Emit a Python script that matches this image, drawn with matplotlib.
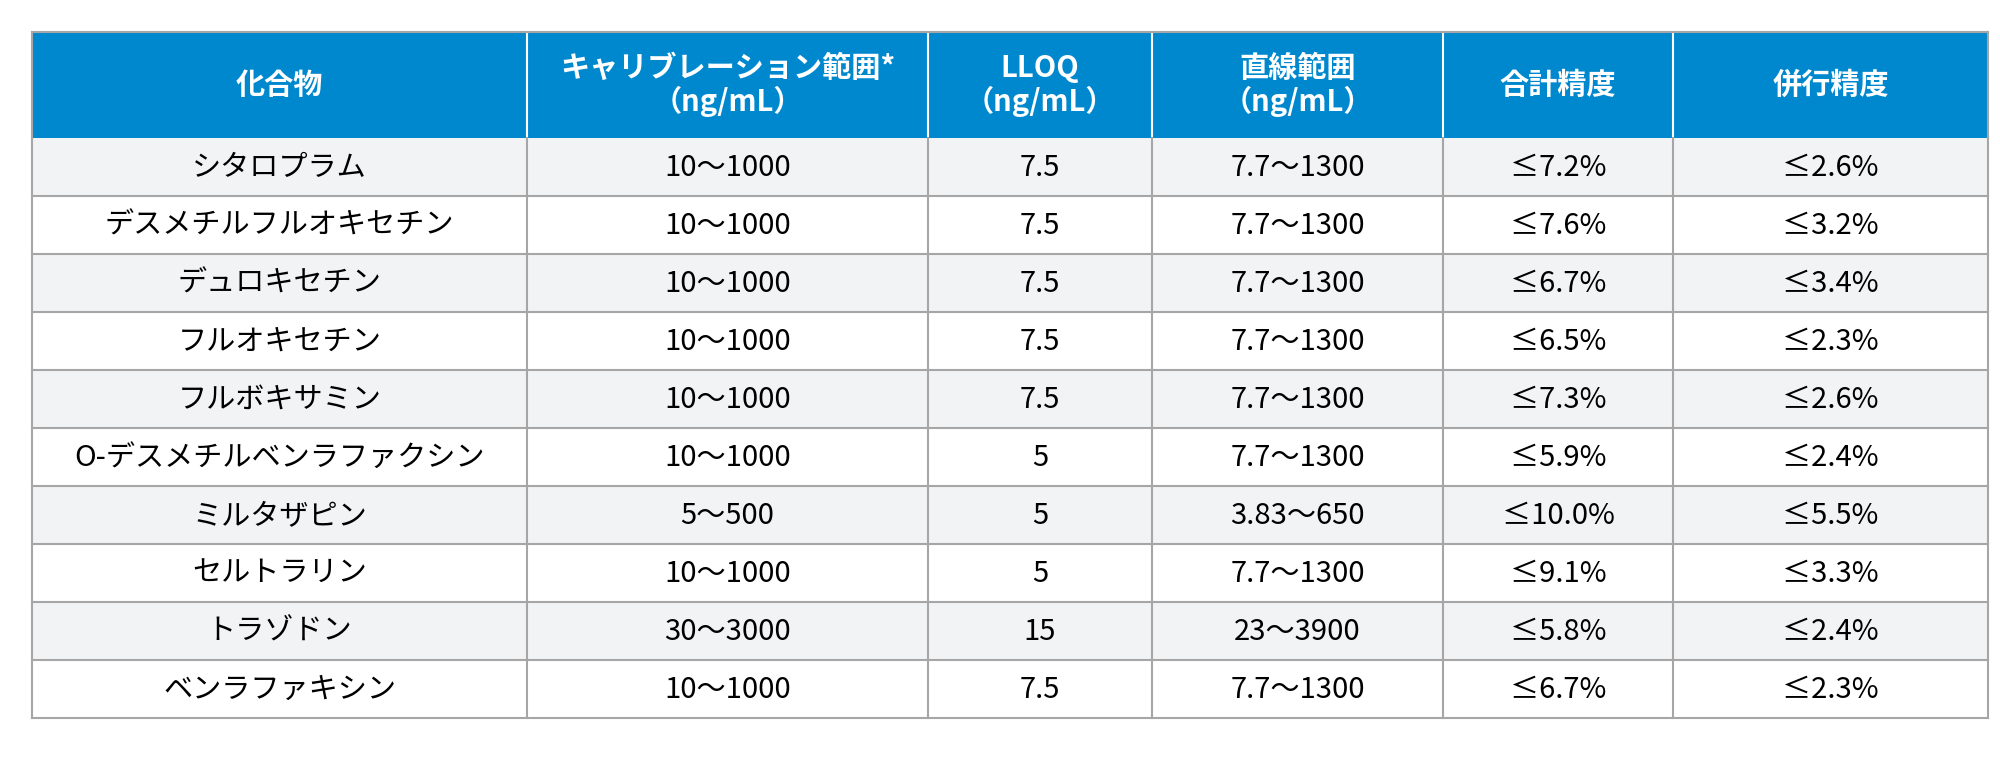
import matplotlib.pyplot as plt
from matplotlib.patches import Rectangle

plt.rcParams['font.family'] = 'Noto Sans CJK JP'

# 表のデータ
headers = ['化合物', 'キャリブレーション範囲*\n（ng/mL）', 'LLOQ\n（ng/mL）',
           '直線範囲\n（ng/mL）', '合計精度', '併行精度']
compounds = ['シタロプラム', 'デスメチルフルオキセチン', 'デュロキセチン', 'フルオキセチン',
             'フルボキサミン', 'O-デスメチルベンラファクシン', 'ミルタザピン', 'セルトラリン',
             'トラゾドン', 'ベンラファキシン']
calib_range = ['10～1000'] * 6 + ['5～500', '10～1000', '30～3000', '10～1000']
lloq = ['7.5', '7.5', '7.5', '7.5', '7.5', '5', '5', '5', '15', '7.5']
linear_range = ['7.7～1300'] * 6 + ['3.83～650', '7.7～1300', '23～3900', '7.7～1300']
total_prec = ['≤7.2%', '≤7.6%', '≤6.7%', '≤6.5%', '≤7.3%', '≤5.9%', '≤10.0%', '≤9.1%', '≤5.8%', '≤6.7%']
repeat_prec = ['≤2.6%', '≤3.2%', '≤3.4%', '≤2.3%', '≤2.6%', '≤2.4%', '≤5.5%', '≤3.3%', '≤2.4%', '≤2.3%']

columns = [compounds, calib_range, lloq, linear_range, total_prec, repeat_prec]

# レイアウト（ピクセル）
col_x = [32, 527, 928, 1152, 1443, 1673, 1988]
top, head_h, row_h = 32, 106, 58

fig = plt.figure(figsize=(20, 7.58), dpi=100)
ax = fig.add_axes([0, 0, 1, 1])
ax.set_xlim(0, 2000)
ax.set_ylim(758, 0)
ax.axis('off')

blue = '#0088ce'
border = '#a6a6a6'

# ヘッダー
ax.add_patch(Rectangle((col_x[0], top), col_x[-1] - col_x[0], head_h, color=blue, lw=0))
for j, h in enumerate(headers):
    ax.text((col_x[j] + col_x[j + 1]) / 2, top + head_h / 2, h, ha='center', va='center',
            color='white', fontsize=21, fontweight='bold', linespacing=1.15)
    if 0 < j:
        ax.plot([col_x[j]] * 2, [top, top + head_h], color='white', lw=1.5)

# データ行
n = len(compounds)
for i in range(n):
    y0 = top + head_h + i * row_h
    fc = '#f2f3f5' if i % 2 == 0 else 'white'
    ax.add_patch(Rectangle((col_x[0], y0), col_x[-1] - col_x[0], row_h, color=fc, lw=0))
    for j, col in enumerate(columns):
        ax.text((col_x[j] + col_x[j + 1]) / 2, y0 + row_h / 2 + 1, col[i], ha='center',
                va='center', color='black', fontsize=21)
    ax.plot([col_x[0], col_x[-1]], [y0 + row_h] * 2, color=border, lw=1.5)

bottom = top + head_h + n * row_h
for x in col_x:
    ax.plot([x, x], [top + head_h, bottom], color=border, lw=1.5)
ax.plot([col_x[0], col_x[-1]], [top, top], color=border, lw=1.5)
ax.plot([col_x[0], col_x[0]], [top, top + head_h], color=border, lw=1.5)
ax.plot([col_x[-1], col_x[-1]], [top, top + head_h], color=border, lw=1.5)

fig.savefig('out.png', dpi=100)
